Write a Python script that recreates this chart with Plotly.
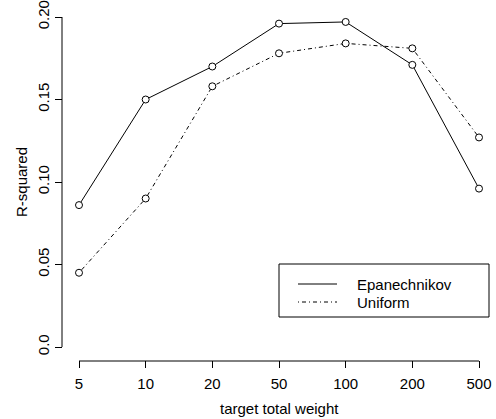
import plotly.graph_objects as go

weights = ["5", "10", "20", "50", "100", "200", "500"]
epanechnikov = [0.086, 0.150, 0.170, 0.196, 0.197, 0.171, 0.096]
uniform = [0.045, 0.090, 0.158, 0.178, 0.184, 0.181, 0.127]
y_ticks = [0.0, 0.05, 0.10, 0.15, 0.20]
y_ticktext = ["0.0", "0.05", "0.10", "0.15", "0.20"]

idx = list(range(1, len(weights) + 1))
FONT = "Liberation Sans, Arial, Helvetica, sans-serif"
FS = 15
DOTDASH = "1px,3px,4px,3px"

fig = go.Figure()
fig.add_trace(go.Scatter(
    x=idx, y=uniform, mode="lines+markers", name="Uniform",
    line=dict(color="black", width=1, dash=DOTDASH),
    marker=dict(symbol="circle", size=7, color="white", line=dict(color="black", width=1)),
    showlegend=False, cliponaxis=False,
))
fig.add_trace(go.Scatter(
    x=idx, y=epanechnikov, mode="lines+markers", name="Epanechnikov",
    line=dict(color="black", width=1),
    marker=dict(symbol="circle", size=7, color="white", line=dict(color="black", width=1)),
    showlegend=False, cliponaxis=False,
))

W, H = 496, 419
L, R, T, B = 63, 1, 0, 59
pw, ph = W - L - R, H - T - B
def px(x):
    return (x - L) / pw
def py(y):
    return (H - B - y) / ph

shapes = []
# axis lines (R style, from first to last tick)
shapes.append(dict(type="line", xref="x", yref="paper", x0=1, x1=len(weights), y0=py(361), y1=py(361),
                   line=dict(color="black", width=1)))
shapes.append(dict(type="line", xref="paper", yref="y", x0=px(62), x1=px(62), y0=y_ticks[0], y1=y_ticks[-1],
                   line=dict(color="black", width=1)))

# manual legend box
shapes.append(dict(type="rect", xref="paper", yref="paper",
                   x0=px(279), x1=px(489), y0=py(317), y1=py(264),
                   line=dict(color="black", width=1), fillcolor="white", layer="above"))
shapes.append(dict(type="line", xref="paper", yref="paper",
                   x0=px(298), x1=px(337), y0=py(284), y1=py(284),
                   line=dict(color="black", width=1)))
shapes.append(dict(type="line", xref="paper", yref="paper",
                   x0=px(298), x1=px(337), y0=py(302), y1=py(302),
                   line=dict(color="black", width=1, dash=DOTDASH)))

txt = dict(family=FONT, size=FS, color="black")
annotations = [
    dict(xref="paper", yref="paper", x=px(355), y=py(284), text="Epanechnikov",
         showarrow=False, xanchor="left", yanchor="middle", font=txt),
    dict(xref="paper", yref="paper", x=px(355), y=py(302), text="Uniform",
         showarrow=False, xanchor="left", yanchor="middle", font=txt),
    dict(xref="paper", yref="paper", x=0.5 * (px(79) + px(479)), y=py(408), text="target total weight",
         showarrow=False, xanchor="center", yanchor="middle", font=txt),
    dict(xref="paper", yref="paper", x=px(21), y=py(182), text="R-squared", textangle=-90,
         showarrow=False, xanchor="center", yanchor="middle", font=txt),
]

# y range so that 0.20 sits at y=17 px and 0.0 at y=347 px
y_top_px, y_bot_px = 17, 347
per_px = (y_ticks[-1] - y_ticks[0]) / (y_bot_px - y_top_px)
y_range = [y_ticks[0] - (ph - y_bot_px) * per_px, y_ticks[-1] + y_top_px * per_px]

fig.update_layout(
    width=W, height=H,
    margin=dict(l=L, r=R, t=T, b=B, pad=0),
    paper_bgcolor="white", plot_bgcolor="white",
    font=dict(family=FONT, size=FS, color="black"),
    shapes=shapes, annotations=annotations,
    showlegend=False,
)
fig.update_xaxes(
    range=[0.76, 7.24], tickvals=idx, ticktext=weights, automargin=False,
    showgrid=False, zeroline=False, showline=False,
    ticks="outside", ticklen=7, tickcolor="black", tickwidth=1,
    tickfont=dict(size=FS), ticklabelstandoff=3,
)
fig.update_yaxes(
    range=y_range, tickvals=y_ticks, ticktext=y_ticktext, automargin=False,
    showgrid=False, zeroline=False, showline=False,
    ticks="outside", ticklen=7, tickcolor="black", tickwidth=1,
    tickangle=-90, tickfont=dict(size=FS),
)

# place the figure at the window origin (remove the default 8px page margin)
fig.write_html("out.html",
               config={"displayModeBar": False},
               post_script="document.body.style.margin='0';document.body.style.overflow='hidden';")
